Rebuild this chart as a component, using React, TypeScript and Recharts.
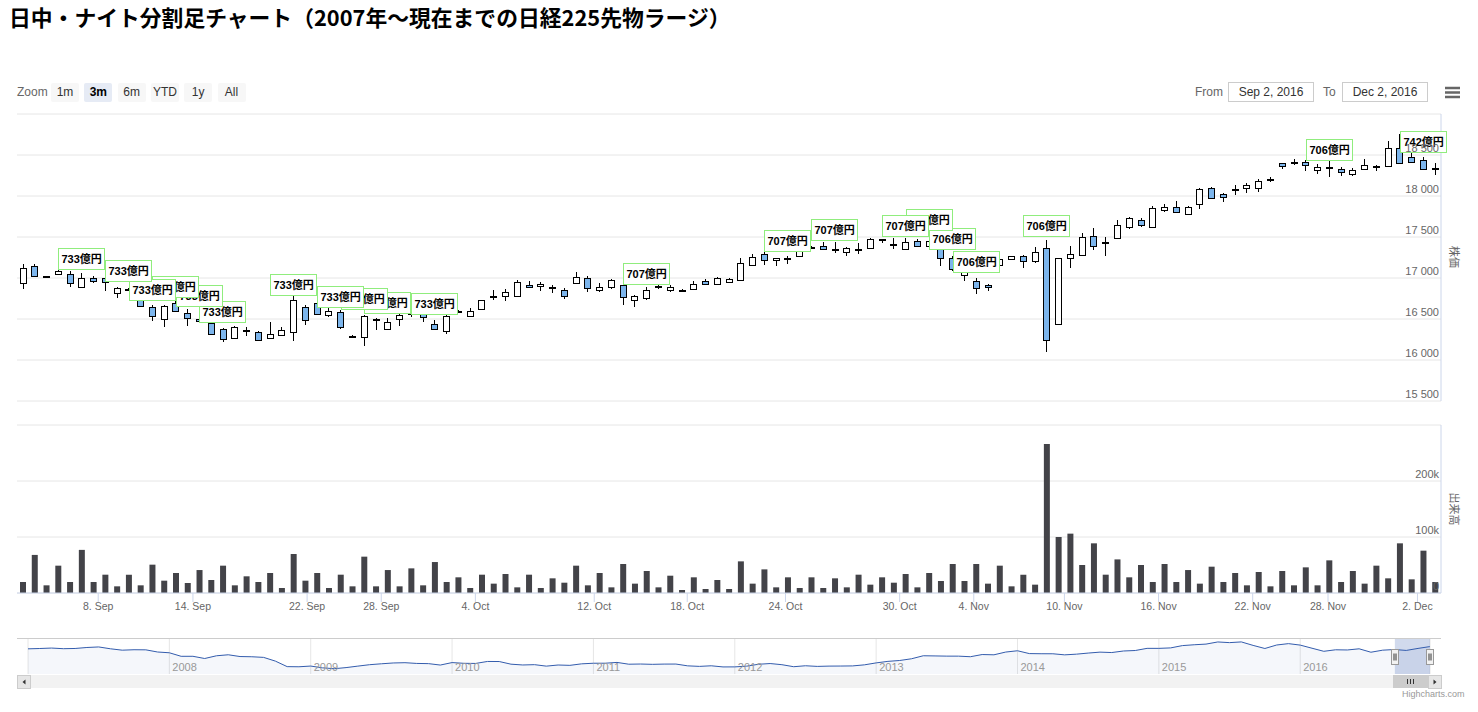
// ** React
import React from 'react';

// ** Chart library
import {
  ComposedChart,
  Bar,
  Area,
  XAxis,
  YAxis,
  CartesianGrid,
  ReferenceDot,
  ReferenceArea,
} from 'recharts';

// One candle per session (day / night), from the 2 Sep night session to the 2 Dec night session
const opens = [
  16939, 17150, 17022, 17049, 17053, 16890, 17000, 16996, 16817, 16860,
  16800, 16646, 16500, 16695, 16573, 16500, 16451, 16378, 16268, 16360,
  16337, 16268, 16309, 16341, 16646, 16695, 16553, 16581, 16295, 16280,
  16490, 16378, 16500, 16560, 16573, 16443, 16350, 16590, 16541, 16626,
  16775, 16776, 16785, 16919, 16898, 16888, 16850, 16939, 17000, 16850,
  16890, 16918, 16733, 16754, 16895, 16848, 16850, 16865, 16967, 16930,
  16946, 16979, 17164, 17287, 17217, 17245, 17274, 17375, 17389, 17355,
  17320, 17345, 17369, 17470, 17415, 17356, 17451, 17390, 17356, 17246,
  17040, 16967, 16918, 17161, 17230, 17271, 17202, 17364, 16439, 17242,
  17283, 17514, 17430, 17482, 17620, 17709, 17620, 17831, 17871, 17782,
  17904, 18094, 18025, 18080, 18094, 18094, 18205, 18399, 18405, 18415,
  18312, 18350, 18332, 18272, 18328, 18370, 18368, 18580, 18472, 18440,
  18342,
];
const highs = [
  17171, 17167, 17028, 17110, 17081, 17061, 17020, 17000, 16890, 16875,
  16830, 16675, 16670, 16736, 16622, 16530, 16480, 16390, 16410, 16402,
  16350, 16459, 16402, 16785, 16675, 16728, 16634, 16614, 16305, 16553,
  16512, 16512, 16557, 16600, 16590, 16484, 16553, 16610, 16630, 16736,
  16858, 16866, 16980, 16959, 16947, 16919, 16878, 17073, 17020, 16939,
  16988, 16979, 16791, 16889, 16918, 16918, 16865, 16959, 16987, 17012,
  16996, 17246, 17295, 17316, 17250, 17266, 17389, 17390, 17439, 17439,
  17377, 17430, 17488, 17480, 17492, 17492, 17471, 17490, 17389, 17270,
  17100, 17000, 16930, 17242, 17271, 17283, 17376, 17465, 17250, 17392,
  17547, 17607, 17498, 17709, 17749, 17729, 17879, 17904, 17944, 17879,
  18094, 18106, 18033, 18135, 18163, 18204, 18236, 18407, 18447, 18445,
  18385, 18440, 18352, 18340, 18448, 18372, 18668, 18752, 18540, 18472,
  18400,
];
const lows = [
  16870, 17008, 17010, 17041, 16890, 16878, 16939, 16837, 16756, 16850,
  16645, 16471, 16402, 16581, 16411, 16470, 16310, 16220, 16260, 16290,
  16228, 16264, 16297, 16228, 16431, 16553, 16524, 16378, 16270, 16167,
  16370, 16372, 16419, 16530, 16463, 16370, 16321, 16580, 16533, 16620,
  16728, 16715, 16780, 16878, 16837, 16817, 16744, 16931, 16825, 16829,
  16866, 16672, 16651, 16733, 16865, 16824, 16824, 16856, 16925, 16925,
  16938, 16971, 17160, 17164, 17143, 17176, 17266, 17350, 17345, 17307,
  17274, 17287, 17365, 17430, 17356, 17352, 17385, 17370, 17152, 17090,
  16967, 16803, 16836, 17150, 17222, 17121, 17181, 16094, 16427, 17121,
  17280, 17336, 17271, 17478, 17595, 17628, 17615, 17810, 17798, 17770,
  17839, 17960, 17932, 18013, 18033, 18054, 18175, 18326, 18378, 18300,
  18272, 18232, 18240, 18240, 18312, 18300, 18362, 18392, 18408, 18320,
  18260,
];
const closes = [
  17122, 17020, 17016, 17081, 16939, 17000, 16959, 16947, 16882, 16868,
  16655, 16532, 16663, 16602, 16512, 16480, 16321, 16256, 16402, 16364,
  16248, 16321, 16362, 16736, 16492, 16565, 16602, 16402, 16285, 16533,
  16494, 16459, 16549, 16575, 16524, 16382, 16541, 16595, 16602, 16728,
  16780, 16829, 16947, 16890, 16931, 16892, 16785, 17012, 16878, 16890,
  16972, 16774, 16783, 16848, 16897, 16889, 16845, 16930, 16930, 17000,
  16987, 17184, 17258, 17217, 17246, 17250, 17340, 17365, 17348, 17357,
  17369, 17350, 17471, 17460, 17405, 17443, 17389, 17450, 17246, 17110,
  17080, 16877, 16885, 17230, 17263, 17202, 17311, 16248, 17242, 17295,
  17498, 17392, 17435, 17648, 17729, 17648, 17851, 17871, 17810, 17871,
  18082, 17973, 17993, 18084, 18135, 18188, 18210, 18366, 18410, 18375,
  18355, 18352, 18292, 18312, 18380, 18368, 18580, 18400, 18420, 18332,
  18338,
];
const volumes = [
  19600, 68000, 13700, 48800, 19600, 77000, 19600, 32700, 11900, 32700,
  13700, 50600, 22000, 35700, 17900, 41000, 23200, 48800, 13700, 29800,
  19600, 35700, 8900, 69600, 22000, 35700, 8900, 32700, 11900, 64900,
  11900, 41000, 11900, 44000, 13700, 55300, 19600, 28000, 8900, 32700,
  16700, 33900, 10100, 32700, 8900, 26200, 18400, 48800, 13700, 35700,
  10100, 51800, 16700, 39300, 10100, 30900, 5400, 28000, 7100, 23200,
  7100, 56500, 16700, 42200, 10100, 28000, 8900, 28000, 8900, 26200,
  10100, 32700, 14900, 28000, 18400, 33900, 10100, 35700, 21400, 51800,
  21400, 51800, 16700, 48800, 11900, 32700, 14900, 266000, 100000, 106000,
  50000, 88700, 32700, 60000, 28000, 50000, 19600, 51800, 19600, 41000,
  16700, 47000, 19600, 35700, 13700, 37500, 11900, 39300, 13700, 45800,
  13700, 58300, 19600, 39300, 16700, 48800, 26200, 88700, 24400, 75600,
  19600,
];

// Date ticks (session index where the date starts on the ordinal axis)
const tickAt = [6.4, 14.45, 24.15, 30.45, 38.45, 48.55, 56.45, 64.8, 74.5, 80.8, 88.5, 96.5, 104.5, 110.9, 118.5];
const tickText = [
  '8. Sep', '14. Sep', '22. Sep', '28. Sep', '4. Oct', '12. Oct', '18. Oct', '24. Oct',
  '30. Oct', '4. Nov', '10. Nov', '16. Nov', '22. Nov', '28. Nov', '2. Dec',
];

// Flags (session index, text, price level of the flag)
const flagIdx = [3, 7, 9, 11, 13, 15, 21, 25, 27, 29, 33, 51, 63, 67, 73, 75, 77, 79, 85, 109, 117];
const flagText = [
  '733億円', '733億円', '733億円', '733億円', '733億円', '733億円', '733億円', '733億円', '733億円', '733億円', '733億円',
  '707億円', '707億円', '707億円', '707億円', '707億円',
  '706億円', '706億円', '706億円', '706億円',
  '742億円',
];
const flagAt = [
  17110, 16959, 16737, 16773, 16664, 16461, 16798, 16648, 16627, 16575, 16567,
  16931, 17324, 17458, 17515, 17580, 17353, 17069, 17507, 18439, 18540,
];

const priceTicks = [15500, 16000, 16500, 17000, 17500, 18000, 18500, 19000];
const volumeTicks = [0, 100000, 200000, 300000];

// Navigator: monthly levels from Jan 2007
const navStart = 2007;
const navLevel = [
  17225, 17383, 17604, 17288, 17400, 17875, 18138, 17248, 16569, 16785, 16737, 15680,
  15307, 13592, 13603, 12525, 13849, 14338, 13481, 13376, 13072, 11259, 8576, 8512,
  8859, 7994, 7568, 8109, 8828, 9522, 9958, 10356, 10492, 10133, 10034, 9345,
  10546, 10198, 10126, 11089, 11057, 9768, 9382, 9537, 8824, 9369, 9202, 9937,
  10228, 10237, 10624, 9755, 9849, 9693, 9816, 9833, 8955, 8700, 8988, 8434,
  8455, 8802, 9723, 10083, 9520, 8542, 9006, 8695, 8839, 8870, 8928, 9446,
  10395, 11138, 11559, 12397, 13860, 13774, 13677, 13668, 13388, 14455, 14327, 15661,
  16291, 14914, 14841, 14827, 14304, 14632, 15162, 15620, 15424, 16173, 16413, 17459,
  17450, 17674, 18797, 19206, 19520, 20563, 20235, 20585, 18890, 17388, 19083, 19747,
  19033, 17518, 16026, 16758, 16666, 17234, 15575, 16569, 16887, 16449, 17425, 18308,
];
const navYears = [2008, 2009, 2010, 2011, 2012, 2013, 2014, 2015, 2016];
const navFrom = 2016 + 245 / 366;
const navTo = 2016 + 336 / 366;

const zoomButtons = ['1m', '3m', '6m', 'YTD', '1y', 'All'];

const candles = opens.map((o, i) => ({
  i,
  open: o,
  high: highs[i],
  low: lows[i],
  close: closes[i],
  vol: volumes[i],
}));

const navRows = navLevel.map((v, k) => ({ t: navStart + k / 12, v }));

const W = 1478;
const AXIS_W = W - 1441;
const FONT = '"Liberation Sans", Arial, "Noto Sans CJK JP", sans-serif';

const fmtPrice = (v: number) => `${Math.floor(v / 1000)} ${String(v % 1000).padStart(3, '0')}`;
const fmtVolume = (v: number) => (v === 0 ? '0' : `${v / 1000}k`);

const CandleShape = (props: any) => {
  const { x, y, width, height, payload } = props;
  if (y == null || height == null || isNaN(y)) return <g />;
  const { open, close, high, low } = payload;
  const k = height / (high - low);
  const mid = Math.round(x + width / 2) + 0.5;
  const yO = y + (high - open) * k;
  const yC = y + (high - close) * k;
  const top = Math.round(Math.min(yO, yC)) + 0.5;
  const bottom = Math.max(Math.round(Math.max(yO, yC)) + 0.5, top + 1);
  const up = close >= open;
  return (
    <g>
      <line x1={mid} x2={mid} y1={Math.round(y)} y2={Math.round(y + height)} stroke="#000" strokeWidth={1} />
      <rect
        x={mid - 3}
        y={top}
        width={6}
        height={bottom - top}
        fill={up ? '#ffffff' : '#7cb5ec'}
        stroke="#000"
        strokeWidth={1}
      />
    </g>
  );
};

const FlagBox = ({ cx, cy, text }: any) => {
  const left = Math.round(cx) + 0.5;
  const bottom = Math.round(cy) + 0.5;
  return (
    <g>
      <rect x={left} y={bottom - 21} width={46} height={21} fill="#ffffff" stroke="#90ed7d" strokeWidth={1} />
      <text x={left + 3} y={bottom - 6.5} fontSize={11} fontWeight="bold" fill="#000" fontFamily={FONT}>
        {text}
      </text>
    </g>
  );
};

const NavHandle = ({ cx, cy }: any) => {
  const x = Math.round(cx) - 3.5;
  const y = Math.round(cy) - 7.5;
  return (
    <g>
      <rect x={x} y={y} width={7} height={15} fill="#f2f2f2" stroke="#999999" strokeWidth={1} />
      <line x1={x + 2.5} x2={x + 2.5} y1={y + 4} y2={y + 11} stroke="#333" strokeWidth={1} />
      <line x1={x + 4.5} x2={x + 4.5} y1={y + 4} y2={y + 11} stroke="#333" strokeWidth={1} />
    </g>
  );
};

// labels sit inside the plot, right aligned, just above their grid line
const PriceTick = ({ x, y, payload }: any) =>
  payload.value === priceTicks[priceTicks.length - 1] ? (
    <g />
  ) : (
    <text x={x - 2} y={y - 3} textAnchor="end" fill="#666666" fontSize={11} fontFamily={FONT}>
      {fmtPrice(payload.value)}
    </text>
  );

const VolumeTick = ({ x, y, payload }: any) =>
  payload.value === volumeTicks[volumeTicks.length - 1] ? (
    <g />
  ) : (
    <text x={x - 2} y={y - 3} textAnchor="end" fill="#666666" fontSize={11} fontFamily={FONT}>
      {fmtVolume(payload.value)}
    </text>
  );

const DateTick = ({ x, y, payload }: any) => (
  <text x={x} y={y + 8} textAnchor="middle" fill="#666666" fontSize={10.5} fontFamily={FONT}>
    {tickText[tickAt.indexOf(payload.value)]}
  </text>
);

const YearTick = ({ x, y, payload }: any) => (
  <text x={x + 3} y={y - 3} textAnchor="start" fill="#999999" fontSize={11} fontFamily={FONT}>
    {payload.value}
  </text>
);

const abs = (left: number, top: number, extra: React.CSSProperties = {}): React.CSSProperties => ({
  position: 'absolute',
  left,
  top,
  ...extra,
});

const App: React.FC = () => {
  return (
    <div style={abs(0, 0, { width: W, height: 712, overflow: 'hidden', background: '#fff', fontFamily: FONT })}>
      {/* Page title */}
      <div
        style={abs(9, 3, {
          fontFamily: '"Noto Sans CJK JP", sans-serif',
          fontWeight: 'bold',
          fontSize: 21.8,
          lineHeight: '28px',
          color: '#000',
          whiteSpace: 'nowrap',
        })}
      >
        日中・ナイト分割足チャート（2007年～現在までの日経225先物ラージ）
      </div>

      {/* Range selector */}
      <div style={abs(17, 84, { fontSize: 12, color: '#666666', lineHeight: '16px' })}>Zoom</div>
      {zoomButtons.map((b, k) => (
        <div
          key={b}
          style={abs(51 + k * 33.3, 83, {
            width: 28,
            height: 19,
            lineHeight: '19px',
            textAlign: 'center',
            fontSize: 12,
            borderRadius: 2,
            background: b === '3m' ? '#e6ebf5' : '#f7f7f7',
            color: b === '3m' ? '#000' : '#333',
            fontWeight: b === '3m' ? 'bold' : 'normal',
          })}
        >
          {b}
        </div>
      ))}
      <div style={abs(1195, 84, { fontSize: 12, color: '#666666', lineHeight: '16px' })}>From</div>
      <div
        style={abs(1228, 82, {
          width: 84,
          height: 18,
          border: '1px solid #cccccc',
          fontSize: 12,
          lineHeight: '18px',
          textAlign: 'center',
          color: '#333',
        })}
      >
        Sep 2, 2016
      </div>
      <div style={abs(1323, 84, { fontSize: 12, color: '#666666', lineHeight: '16px' })}>To</div>
      <div
        style={abs(1342, 82, {
          width: 84,
          height: 18,
          border: '1px solid #cccccc',
          fontSize: 12,
          lineHeight: '18px',
          textAlign: 'center',
          color: '#333',
        })}
      >
        Dec 2, 2016
      </div>
      <svg style={abs(1444, 86)} width={18} height={14}>
        {[2, 6.5, 11].map((yy) => (
          <line key={yy} x1={1} x2={16} y1={yy} y2={yy} stroke="#666666" strokeWidth={2.5} />
        ))}
      </svg>

      {/* Price panel */}
      <div style={abs(0, 0)}>
        <ComposedChart width={W} height={402} data={candles} margin={{ top: 114, right: 0, bottom: 1, left: 17 }}>
          <CartesianGrid vertical={false} stroke="#e6e6e6" />
          <XAxis dataKey="i" type="number" domain={[-0.5, 120.5]} hide />
          <YAxis
            orientation="right"
            width={AXIS_W}
            domain={[15500, 19000]}
            ticks={priceTicks}
            interval={0}
            tickSize={0}
            tickMargin={0}
            tickLine={false}
            axisLine={{ stroke: '#ccd6eb' }}
            tick={<PriceTick />}
          />
          <Bar dataKey={(d: any) => [d.low, d.high]} shape={CandleShape} barSize={7} isAnimationActive={false} />
          {flagIdx
            .map((fi, k) => (
              <ReferenceDot
                key={`f${k}`}
                x={fi}
                y={flagAt[k]}
                r={0}
                ifOverflow="visible"
                shape={(p: any) => <FlagBox cx={p.cx} cy={p.cy} text={flagText[k]} />}
              />
            ))
            .reverse()}
        </ComposedChart>
      </div>
      <div
        style={abs(1455, 257, {
          transform: 'translate(-50%, -50%) rotate(90deg)',
          fontSize: 11,
          color: '#666666',
          whiteSpace: 'nowrap',
          fontFamily: '"Noto Sans CJK JP", sans-serif',
        })}
      >
        株価
      </div>

      {/* Volume panel */}
      <div style={abs(0, 410)}>
        <ComposedChart width={W} height={215} data={candles} margin={{ top: 15, right: 0, bottom: 0, left: 17 }}>
          <CartesianGrid vertical={false} stroke="#e6e6e6" />
          <XAxis
            dataKey="i"
            type="number"
            domain={[-0.5, 120.5]}
            ticks={tickAt}
            interval={0}
            height={32}
            tickSize={9}
            tickMargin={0}
            axisLine={{ stroke: '#ccd6eb' }}
            tickLine={{ stroke: '#ccd6eb' }}
            tick={<DateTick />}
          />
          <YAxis
            orientation="right"
            width={AXIS_W}
            domain={[0, 300000]}
            ticks={volumeTicks}
            interval={0}
            tickSize={0}
            tickMargin={0}
            tickLine={false}
            axisLine={{ stroke: '#ccd6eb' }}
            tick={<VolumeTick />}
          />
          <Bar dataKey="vol" fill="#434348" barSize={6} isAnimationActive={false} />
        </ComposedChart>
      </div>
      <div
        style={abs(1455, 509, {
          transform: 'translate(-50%, -50%) rotate(90deg)',
          fontSize: 11,
          color: '#666666',
          whiteSpace: 'nowrap',
          fontFamily: '"Noto Sans CJK JP", sans-serif',
        })}
      >
        出来高
      </div>

      {/* Navigator */}
      <div style={abs(17, 638, { width: 1424, height: 1, background: '#cccccc' })} />
      <div style={abs(0, 600)}>
        <ComposedChart width={W} height={80} data={navRows} margin={{ top: 39, right: W - 1430, bottom: 0, left: 28 }}>
          <CartesianGrid horizontal={false} stroke="#e6e6e6" />
          <XAxis
            dataKey="t"
            type="number"
            domain={[navStart, navTo]}
            ticks={navYears}
            interval={0}
            height={6}
            tickSize={0}
            tickMargin={0}
            axisLine={false}
            tickLine={false}
            tick={<YearTick />}
          />
          <YAxis hide domain={[5000, 22000]} />
          <ReferenceArea x1={navFrom} x2={navTo} fill="#6685c2" fillOpacity={0.3} stroke="none" />
          <Area
            dataKey="v"
            type="linear"
            stroke="#335cad"
            strokeWidth={1}
            fill="#335cad"
            fillOpacity={0.05}
            dot={false}
            activeDot={false}
            isAnimationActive={false}
          />
          <ReferenceDot x={navFrom} y={13500} r={0} shape={(p: any) => <NavHandle cx={p.cx} cy={p.cy} />} />
          <ReferenceDot x={navTo} y={13500} r={0} shape={(p: any) => <NavHandle cx={p.cx} cy={p.cy} />} />
        </ComposedChart>
      </div>

      {/* Scrollbar */}
      <div style={abs(17, 675, { width: 1424, height: 13, background: '#f2f2f2' })} />
      <div style={abs(17, 675, { width: 12, height: 12, background: '#e6e6e6', border: '1px solid #cccccc' })}>
        <svg width={12} height={12} style={{ display: 'block' }}>
          <path d="M7.5 3.5 L4.5 6 L7.5 8.5 Z" fill="#333" />
        </svg>
      </div>
      <div style={abs(1428, 675, { width: 12, height: 12, background: '#e6e6e6', border: '1px solid #cccccc' })}>
        <svg width={12} height={12} style={{ display: 'block' }}>
          <path d="M4.5 3.5 L7.5 6 L4.5 8.5 Z" fill="#333" />
        </svg>
      </div>
      <div style={abs(1393, 675, { width: 35, height: 13, background: '#cccccc' })}>
        <svg width={35} height={13} style={{ display: 'block' }}>
          {[14.5, 17.5, 20.5].map((xx) => (
            <line key={xx} x1={xx} x2={xx} y1={4} y2={9} stroke="#333" strokeWidth={1} />
          ))}
        </svg>
      </div>

      {/* Credits */}
      <div style={abs(1402, 689, { fontSize: 9, color: '#999999', lineHeight: '10px' })}>Highcharts.com</div>
    </div>
  );
};

export default App;
